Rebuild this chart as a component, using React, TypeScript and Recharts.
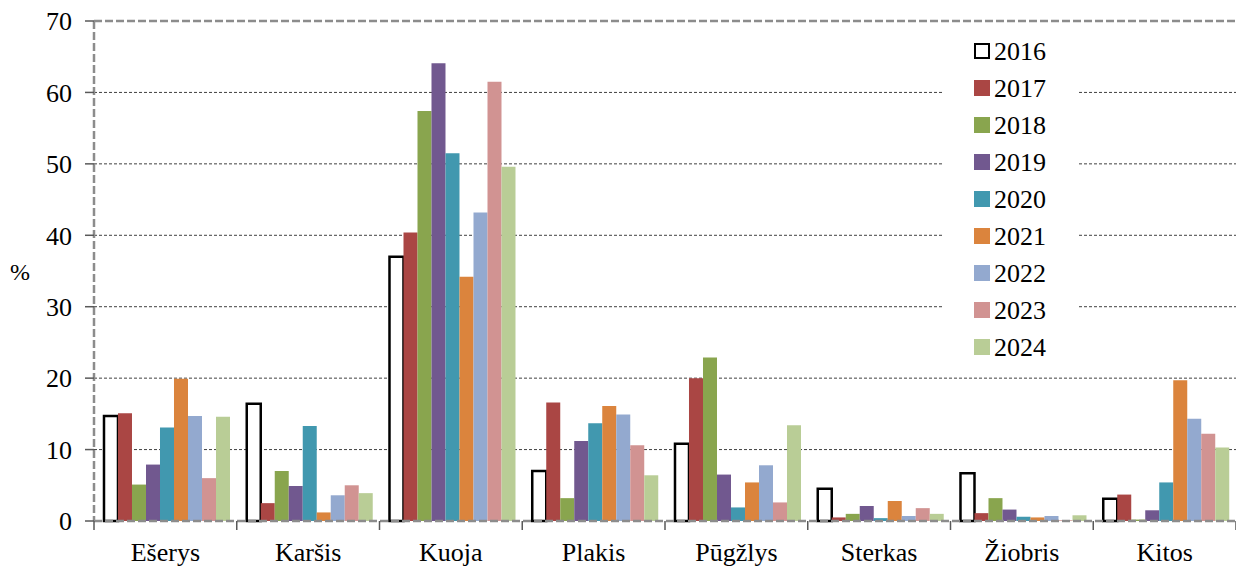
import React from 'react';
import { BarChart, Bar, XAxis, YAxis, CartesianGrid, ReferenceLine } from 'recharts';

const categories = ['Ešerys', 'Karšis', 'Kuoja', 'Plakis', 'Pūgžlys', 'Sterkas', 'Žiobris', 'Kitos'];
const years = ['2016', '2017', '2018', '2019', '2020', '2021', '2022', '2023', '2024'];

const values2016 = [14.7, 16.4, 37.0, 7.0, 10.8, 4.5, 6.7, 3.1];
const values2017 = [15.1, 2.5, 40.4, 16.6, 20.0, 0.5, 1.1, 3.7];
const values2018 = [5.1, 7.0, 57.4, 3.2, 22.9, 1.0, 3.2, 0.2];
const values2019 = [7.9, 4.9, 64.1, 11.2, 6.5, 2.1, 1.6, 1.5];
const values2020 = [13.1, 13.3, 51.5, 13.7, 1.9, 0.4, 0.6, 5.4];
const values2021 = [19.9, 1.2, 34.2, 16.1, 5.4, 2.8, 0.5, 19.7];
const values2022 = [14.7, 3.6, 43.2, 14.9, 7.8, 0.7, 0.7, 14.3];
const values2023 = [6.0, 5.0, 61.5, 10.6, 2.6, 1.8, 0.1, 12.2];
const values2024 = [14.6, 3.9, 49.6, 6.4, 13.4, 1.0, 0.8, 10.3];

const yTicks = [0, 10, 20, 30, 40, 50, 60, 70];
const gridValues = [10, 20, 30, 40, 50, 60];

const seriesValues = [
  values2016, values2017, values2018, values2019, values2020,
  values2021, values2022, values2023, values2024,
];

const colors = ['#ffffff', '#aa4644', '#89a54e', '#71588f', '#4198af', '#db843d', '#93a9cf', '#d19392', '#b9cd96'];

const data = categories.map((name, i) => {
  const row: Record<string, string | number> = { name };
  years.forEach((y, j) => {
    row[y] = seriesValues[j][i];
  });
  return row;
});

const FONT = "'Times New Roman', 'Liberation Serif', serif";

const CategoryTick = (props: any) => {
  const { x, y, payload, index, visibleTicksCount } = props;
  const half = payload && payload.offset ? payload.offset : 71.375;
  return (
    <g>
      <line x1={x - half} x2={x - half} y1={y} y2={y + 9} stroke="#595959" strokeWidth={1.5} />
      {index === visibleTicksCount - 1 && (
        <line x1={x + half} x2={x + half} y1={y} y2={y + 9} stroke="#595959" strokeWidth={1.5} />
      )}
      <text x={x} y={y + 22} dy="0.71em" textAnchor="middle" fill="#000" style={{ fontSize: 26, fontFamily: FONT }}>
        {payload.value}
      </text>
    </g>
  );
};

const App = () => {
  return (
    <div style={{ position: 'absolute', left: 0, top: 0, width: 1236, height: 566, background: '#fff', fontFamily: FONT }}>
      <BarChart
        width={1236}
        height={566}
        data={data}
        margin={{ top: 21, right: 0, bottom: 0, left: 0 }}
        barCategoryGap="7%"
        barGap={0}
        style={{ fontFamily: FONT }}
      >
        <CartesianGrid
          vertical={false}
          horizontalValues={gridValues}
          stroke="#404040"
          strokeDasharray="3 2"
        />
        <ReferenceLine y={70} stroke="#8c8c8c" strokeWidth={2.5} strokeDasharray="8 3" />
        <XAxis
          dataKey="name"
          height={45}
          tickLine={false}
          tickSize={0}
          tickMargin={0}
          interval={0}
          axisLine={{ stroke: '#8c8c8c', strokeWidth: 2.5, strokeDasharray: '8 3' }}
          tick={<CategoryTick />}
        />
        <YAxis
          width={94}
          domain={[0, 70]}
          ticks={yTicks}
          interval={0}
          tickSize={9}
          tickMargin={13}
          tickLine={{ stroke: '#595959', strokeWidth: 1.5 }}
          axisLine={{ stroke: '#8c8c8c', strokeWidth: 2.5, strokeDasharray: '8 3' }}
          tick={{ fill: '#000', fontSize: 26, style: { fontFamily: FONT } }}
          label={{ value: '%', position: 'insideLeft', offset: 10, fill: '#000', fontSize: 24, style: { fontFamily: FONT } }}
        />
        {years.map((y, j) => (
          <Bar
            key={y}
            dataKey={y}
            fill={colors[j]}
            stroke={j === 0 ? '#000' : 'none'}
            strokeWidth={j === 0 ? 2.5 : 0}
            isAnimationActive={false}
          />
        ))}
      </BarChart>
      <div
        style={{
          position: 'absolute',
          left: 943,
          top: 28,
          width: 134,
          height: 337,
          background: '#fff',
          paddingTop: 4.5,
          boxSizing: 'border-box',
          fontSize: 26,
          color: '#000',
        }}
      >
        {years.map((y, j) => (
          <div key={y} style={{ display: 'flex', alignItems: 'center', height: 37, paddingLeft: 31 }}>
            <div
              style={{
                width: 16,
                height: 16,
                boxSizing: 'border-box',
                background: colors[j],
                border: j === 0 ? '2.5px solid #000' : 'none',
                marginRight: 4,
              }}
            />
            <span style={{ lineHeight: '37px' }}>{y}</span>
          </div>
        ))}
      </div>
    </div>
  );
};

export default App;
